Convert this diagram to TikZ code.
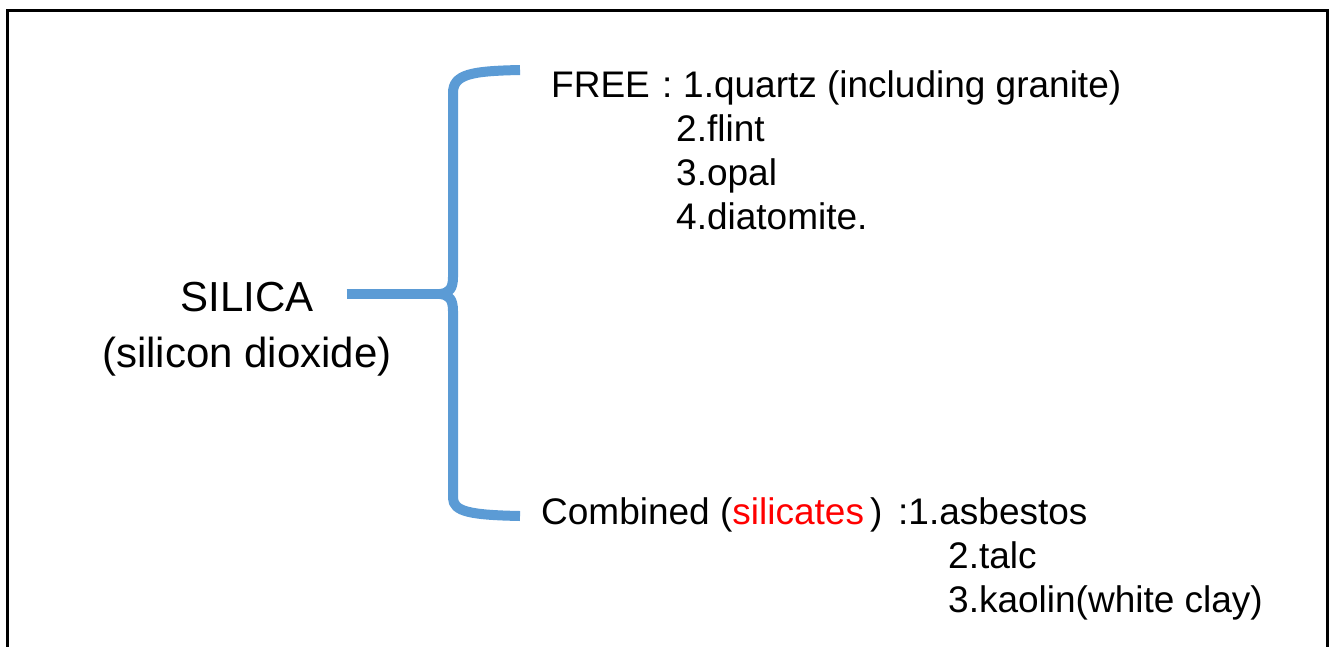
\documentclass[tikz,border=0pt]{standalone}
\usepackage{fontspec}
\setmainfont{Liberation Sans}
\definecolor{braceblue}{RGB}{91,155,213}
\begin{document}
\begin{tikzpicture}[x=1pt,y=-1pt,
  txt/.style={inner sep=0pt, anchor=base west, font=\fontsize{37}{44}\selectfont},
  bigtxt/.style={inner sep=0pt, anchor=base, font=\fontsize{42}{50}\selectfont},
  bracestroke/.style={draw=braceblue, line width=10pt, line join=round}]
  \useasboundingbox (0,0) rectangle (1330,646);
  % frame, open at the bottom edge
  \draw[line width=3pt] (7,660) -- (7,10) -- (1327,10) -- (1327,660);

  % root label
  \node[bigtxt] (silica) at (247,311) {SILICA};
  \node[bigtxt] (dioxide) at (247,367) {(silicon dioxide)};

  % brace
  \coordinate (cusp) at (440,294);
  \coordinate (topend) at (520,70);
  \coordinate (botend) at (520,516);
  \draw[bracestroke] (topend) .. controls (472,71) and (453,74) .. (453,93)
    -- (453,277) .. controls (453,289) and (449,293) .. (cusp)
    .. controls (449,295) and (453,299) .. (453,311)
    -- (453,498) .. controls (453,512) and (472,515) .. (botend);
  \draw[bracestroke] (silica.east |- cusp) ++(33,0) coordinate (stem) -- (cusp);

  % free silica
  \node[txt] (free) at (551,97) {FREE};
  \node[txt] (fcolon) at (662,97) {:};
  \node[txt] (f1) at (683,97) {1.quartz (including granite)};
  \node[txt] (f2) at (676,141) {2.flint};
  \node[txt] (f3) at (676,185) {3.opal};
  \node[txt] (f4) at (676,229) {4.diatomite.};

  % combined silica
  \node[txt] (comb) at (541,524) {Combined (\textcolor{red}{silicates}\,)};
  \node[txt] (c1) at (898,524) {:1.asbestos};
  \node[txt] (c2) at (948,568) {2.talc};
  \node[txt] (c3) at (948,612) {3.kaolin(white clay)};
\end{tikzpicture}
\end{document}
